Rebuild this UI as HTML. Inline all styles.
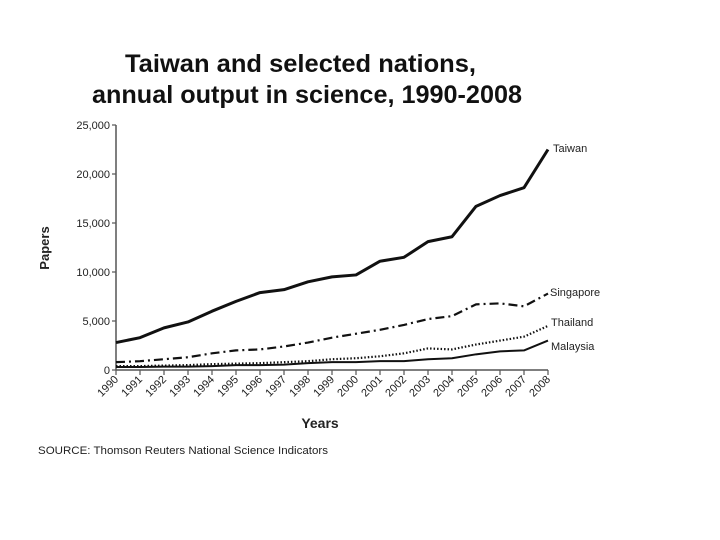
<!DOCTYPE html>
<html><head><meta charset="utf-8"><style>body{margin:0;background:#fff}svg{display:block}</style></head><body>
<svg width="720" height="540" viewBox="0 0 720 540" xmlns="http://www.w3.org/2000/svg" font-family="Liberation Sans, sans-serif">
<rect width="720" height="540" fill="#fff"/>
<g font-weight="bold" font-size="25" fill="#111">
<text x="125" y="72" textLength="351" lengthAdjust="spacingAndGlyphs">Taiwan and selected nations,</text>
<text x="92" y="103" textLength="430" lengthAdjust="spacingAndGlyphs">annual output in science, 1990-2008</text>
</g>
<g stroke="#555" stroke-width="1.5" fill="none">
<line x1="116" y1="125" x2="116" y2="370"/>
<line x1="116" y1="370" x2="548" y2="370"/>
</g>
<g stroke="#555" stroke-width="1.2" id="ticks"></g>
<g font-size="11" fill="#222" text-anchor="end" id="ylab"></g>
<g font-size="11" fill="#222" id="xlab"></g>
<text x="0" y="0" font-size="13" font-weight="bold" fill="#222" transform="translate(49,248) rotate(-90)" text-anchor="middle">Papers</text>
<text x="320" y="428" font-size="14" font-weight="bold" fill="#222" text-anchor="middle">Years</text>
<text x="38" y="454" font-size="11" fill="#222" textLength="290" lengthAdjust="spacingAndGlyphs">SOURCE: Thomson Reuters National Science Indicators</text>
<g fill="none" stroke="#111" stroke-linejoin="round" id="lines"></g>
<g font-size="11" fill="#222">
<text x="553" y="152">Taiwan</text>
<text x="550" y="296">Singapore</text>
<text x="551" y="326">Thailand</text>
<text x="551" y="350">Malaysia</text>
</g>
<script>
var ns="http://www.w3.org/2000/svg";
function X(i){return 116+24*i}function Y(v){return 370-9.8*v}
var t=document.getElementById("ticks"),yl=document.getElementById("ylab"),xl=document.getElementById("xlab"),L=document.getElementById("lines");
function el(n,a,p,txt){var e=document.createElementNS(ns,n);for(var k in a)e.setAttribute(k,a[k]);if(txt)e.textContent=txt;p.appendChild(e);return e}
var labs=["0","5,000","10,000","15,000","20,000","25,000"];
for(var j=0;j<=5;j++){el("line",{x1:112,x2:116,y1:Y(j*5),y2:Y(j*5)},t);el("text",{x:110,y:Y(j*5)+4},yl,labs[j]);}
for(var i=0;i<=18;i++){el("line",{x1:X(i),x2:X(i),y1:370,y2:375},t);el("text",{x:0,y:0,transform:"translate("+(X(i)+3)+",380) rotate(-45)","text-anchor":"end"},xl,String(1990+i));}
var D=[
[[2.8,3.3,4.3,4.9,6.0,7.0,7.9,8.2,9.0,9.5,9.7,11.1,11.5,13.1,13.6,16.7,17.8,18.6,22.5],3,""],
[[0.8,0.9,1.1,1.3,1.7,2.0,2.1,2.4,2.8,3.3,3.7,4.1,4.6,5.2,5.5,6.7,6.8,6.5,7.8],2.2,"9 4 2 4"],
[[0.4,0.4,0.45,0.5,0.6,0.65,0.7,0.8,0.9,1.1,1.2,1.4,1.7,2.2,2.1,2.6,3.0,3.4,4.5],2.2,"1.5 2"],
[[0.3,0.3,0.35,0.35,0.4,0.5,0.5,0.55,0.7,0.8,0.8,0.9,0.9,1.1,1.2,1.6,1.9,2.0,3.0],2,""]];
D.forEach(function(s){var p=s[0].map(function(v,i){return X(i)+","+Y(v)}).join(" ");var a={points:p,"stroke-width":s[1]};if(s[2])a["stroke-dasharray"]=s[2];el("polyline",a,L);});
</script>
</svg>
</body></html>
